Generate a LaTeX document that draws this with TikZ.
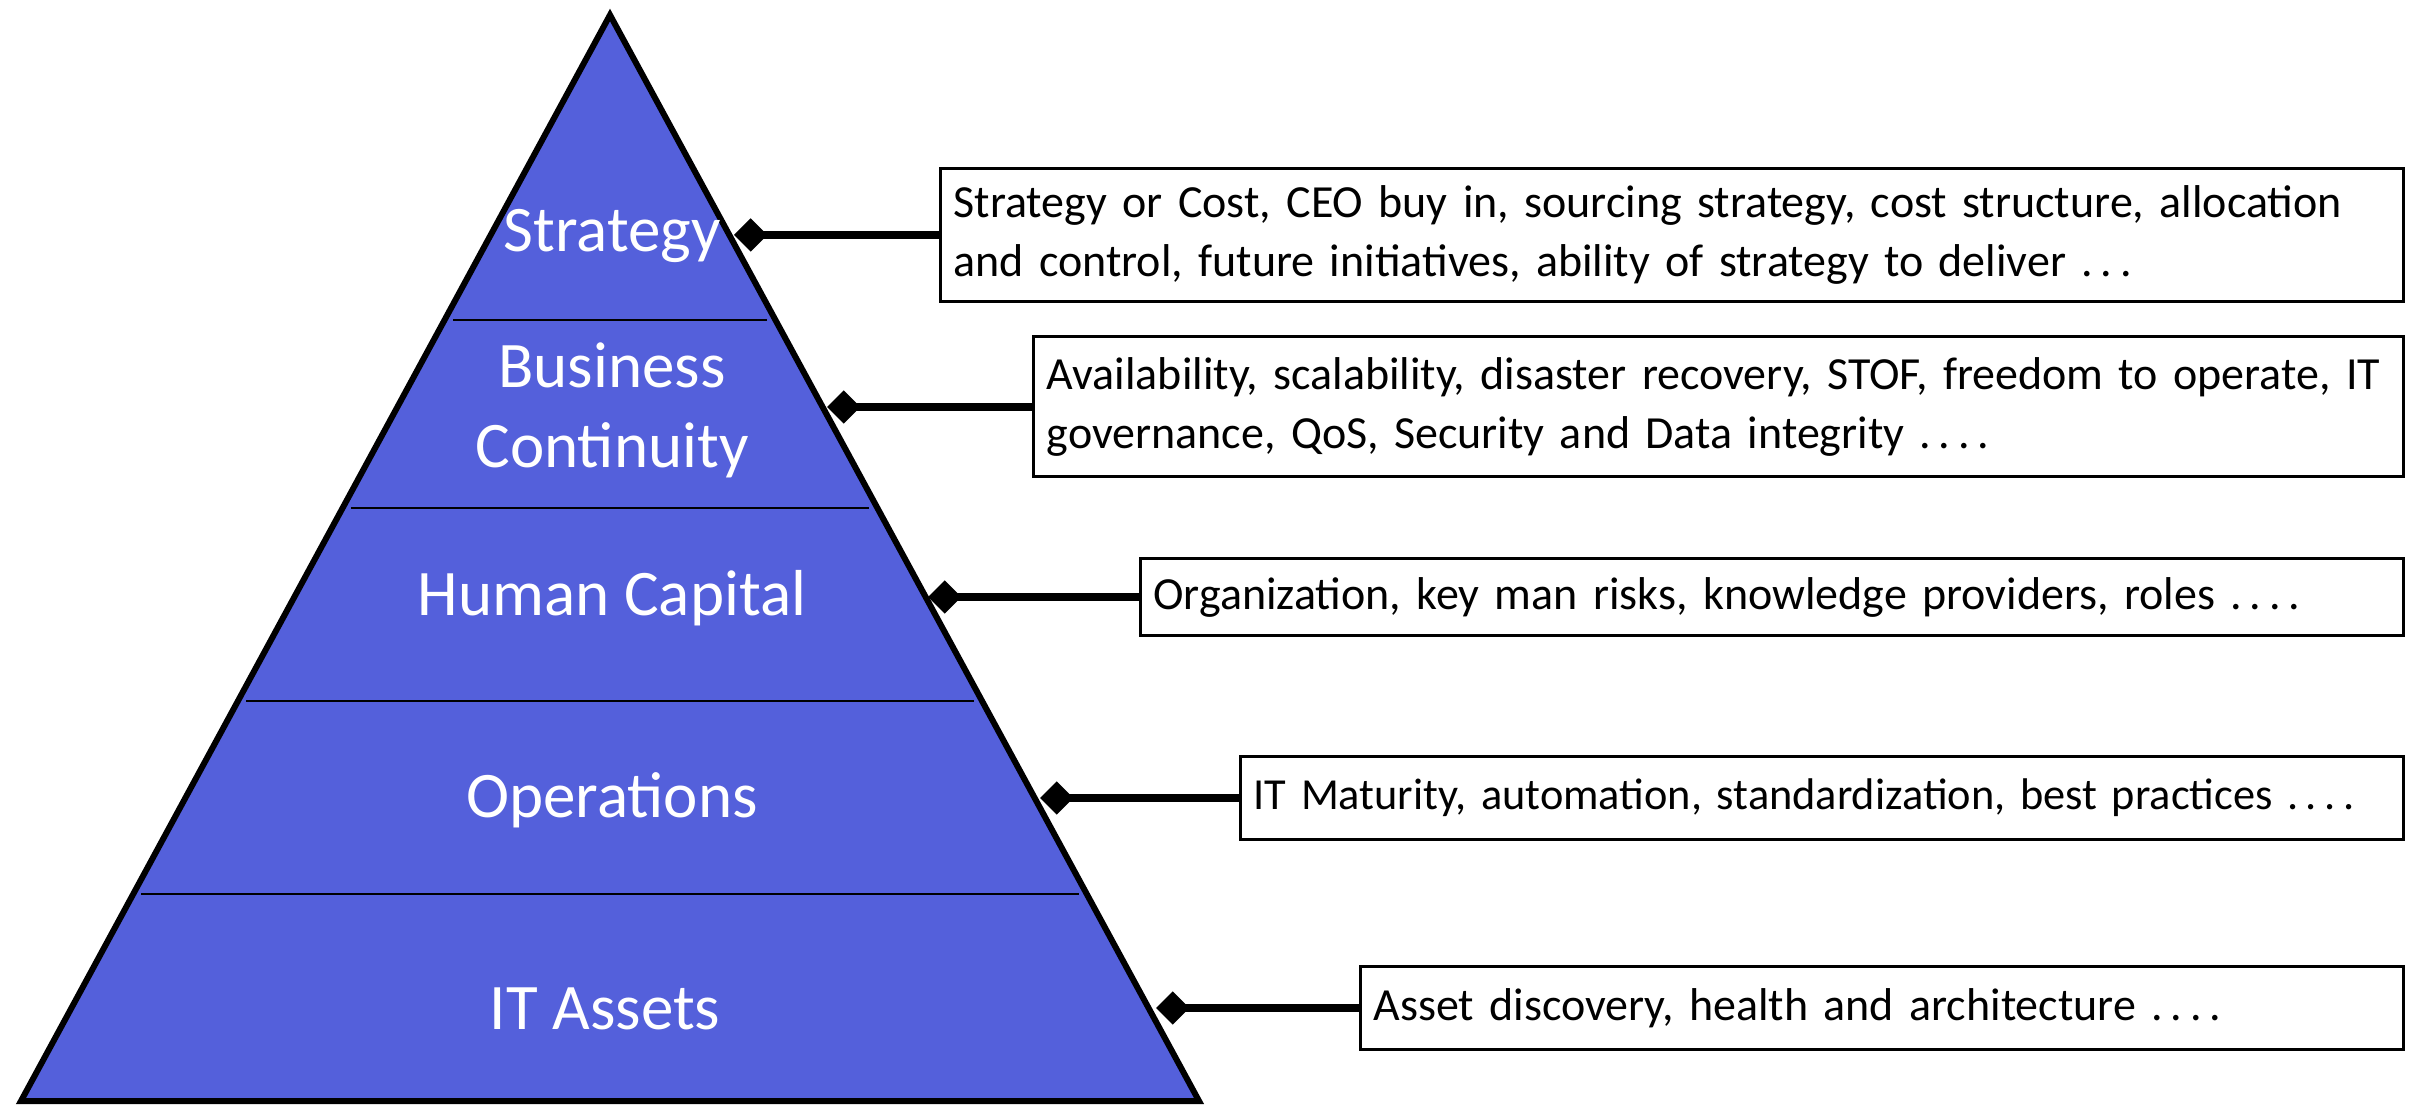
\documentclass[tikz,border=0pt]{standalone}
\usepackage{fontspec}
\setmainfont{Carlito}
\usetikzlibrary{arrows.meta}
\definecolor{pyrblue}{RGB}{84,96,219}
\newcommand{\dotsfour}{.\,.\,.\,.}
\newcommand{\dotsthree}{.\,.\,.}
\tikzset{
  layer/.style   = {text = white, font = \fontsize{19.5}{24}\selectfont, align = center},
  infobox/.style = {draw, line width = 0.9pt, anchor = east, align = left,
                    inner xsep = 4pt, font = \fontsize{13.8}{17.5}\selectfont},
  link/.style    = {line width = 2.3pt, {Diamond[length = 10pt, width = 10pt]}-}
}
\begin{document}
\begin{tikzpicture}[x = 0.3pt, y = -0.3pt]
        \useasboundingbox (0,0) rectangle (2422,1105);
        \coordinate (apex)   at ( 610,   15);
        \coordinate (bleft)  at (  21, 1101);
        \coordinate (bright) at (1199, 1101);
        % layers
        \fill[pyrblue] (apex) -- (bright) -- (bleft) -- cycle;
        \draw[line width = 0.7pt] (453, 320) -- (767, 320);
        \draw[line width = 0.7pt] (351, 508) -- (869, 508);
        \draw[line width = 0.7pt] (246, 701) -- (974, 701);
        \draw[line width = 0.7pt] (141, 894) -- (1079, 894);
        \draw[line width = 1.8pt, line join = miter] (apex) -- (bright) -- (bleft) -- cycle;
        \node[layer] (strategy)   at (612, 236) {Strategy};
        \node[layer] (continuity) at (612, 410) {Business\\Continuity};
        \node[layer] (human)      at (612, 598) {Human Capital};
        \node[layer] (operations) at (612, 800) {Operations};
        \node[layer] (assets)     at (605,1009) {IT Assets};
        % boxes
        \node[infobox, text width = 431pt, minimum height = 40pt] (box1) at (2405, 235)
          {Strategy or Cost, CEO buy in, sourcing strategy, cost structure, allocation\\
           and control, future initiatives, ability of strategy to deliver \dotsthree};
        \node[infobox, text width = 403pt, minimum height = 42pt] (box2) at (2405, 407)
          {Availability, scalability, disaster recovery, STOF, freedom to operate, IT\\
           governance, QoS, Security and Data integrity \dotsfour};
        \node[infobox, text width = 371pt, minimum height = 23pt] (box3) at (2405, 597)
          {Organization, key man risks, knowledge providers, roles \dotsfour};
        \node[infobox, text width = 341pt, minimum height = 25pt,
              font = \fontsize{13.3}{17.5}\selectfont] (box4) at (2405, 798)
          {IT Maturity, automation, standardization, best practices \dotsfour};
        \node[infobox, text width = 305pt, minimum height = 25pt] (box5) at (2405,1008)
          {Asset discovery, health and architecture \dotsfour};
        % connectors
        \coordinate (d1) at ( 734, 235);
        \coordinate (d2) at ( 827, 407);
        \coordinate (d3) at ( 928, 597);
        \coordinate (d4) at (1040, 798);
        \coordinate (d5) at (1156,1008);
        \draw[link] (d1) -- (box1.west);
        \draw[link] (d2) -- (box2.west);
        \draw[link] (d3) -- (box3.west);
        \draw[link] (d4) -- (box4.west);
        \draw[link] (d5) -- (box5.west);
\end{tikzpicture}
\end{document}
